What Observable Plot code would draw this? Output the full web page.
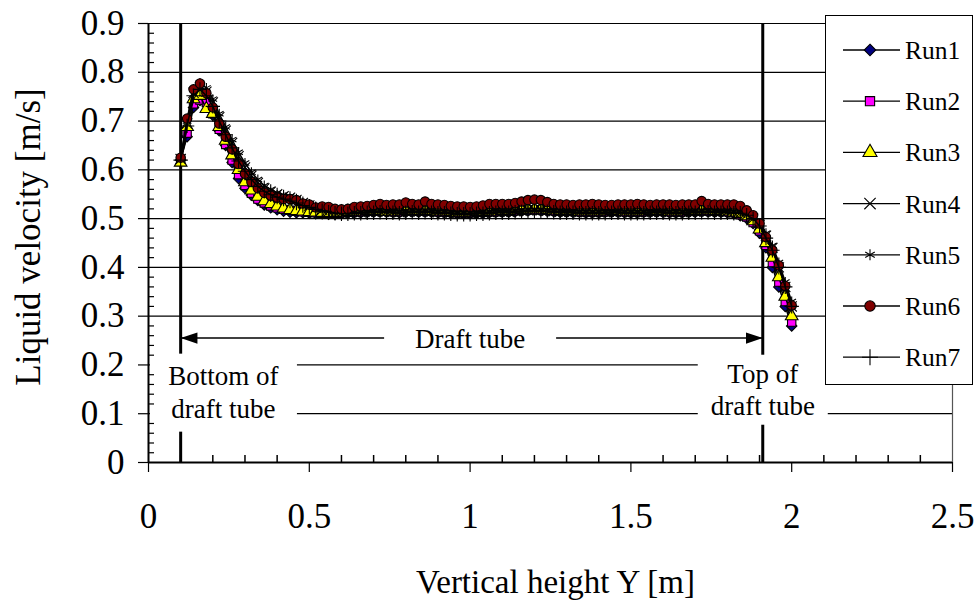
<!DOCTYPE html>
<html><head><meta charset="utf-8">
<script src="https://cdn.jsdelivr.net/npm/d3@7"></script>
<script src="https://cdn.jsdelivr.net/npm/@observablehq/plot@0.6"></script>
<style>
html,body{margin:0;padding:0;background:#fff;}
#wrap{position:relative;width:980px;height:608px;overflow:hidden;}
#wrap svg{position:absolute;left:0;top:0;}
</style></head><body><div id="wrap"></div>
<script>
// ---------- data ----------
const heights = [0.10,0.12,0.14,0.16,0.18,0.20,0.22,0.24,0.26,0.28,0.30,0.32,0.34,0.36,0.38,0.40,0.42,0.44,0.46,0.48,
0.50,0.52,0.54,0.56,0.58,0.60,0.62,0.64,0.66,0.68,0.70,0.72,0.74,0.76,0.78,0.80,0.82,0.84,0.86,0.88,
0.90,0.92,0.94,0.96,0.98,1.00,1.02,1.04,1.06,1.08,1.10,1.12,1.14,1.16,1.18,1.20,1.22,1.24,1.26,1.28,
1.30,1.32,1.34,1.36,1.38,1.40,1.42,1.44,1.46,1.48,1.50,1.52,1.54,1.56,1.58,1.60,1.62,1.64,1.66,1.68,
1.70,1.72,1.74,1.76,1.78,1.80,1.82,1.84,1.86,1.88,1.90,1.92,1.94,1.96,1.98,2.00];

const run1 = [0.620,0.668,0.728,0.742,0.735,0.712,0.680,0.650,0.615,0.582,0.562,0.548,0.537,0.528,0.522,0.518,0.515,0.513,0.512,0.512,
0.511,0.510,0.510,0.509,0.509,0.510,0.511,0.512,0.512,0.513,
0.513,0.514,0.513,0.513,0.512,0.513,0.514,0.513,0.514,0.513,
0.512,0.512,0.511,0.510,0.510,0.510,0.511,0.511,0.512,0.513,
0.513,0.513,0.514,0.515,0.516,0.517,0.516,0.515,0.514,0.513,
0.513,0.513,0.513,0.512,0.512,0.512,0.513,0.513,0.513,0.512,
0.512,0.512,0.513,0.513,0.513,0.513,0.512,0.512,0.512,0.513,
0.513,0.514,0.514,0.513,0.513,0.512,0.510,0.506,
0.500,0.490,0.470,0.440,0.400,0.360,0.320,0.280];

const run2 = [0.618,0.675,0.735,0.743,0.738,0.715,0.683,0.652,0.620,0.590,0.568,0.552,0.540,0.532,0.526,0.522,0.519,0.517,0.515,0.514,
0.513,0.512,0.511,0.511,0.511,0.512,0.513,0.514,0.514,0.515,
0.515,0.515,0.515,0.514,0.514,0.515,0.516,0.515,0.516,0.515,
0.514,0.514,0.513,0.512,0.512,0.512,0.513,0.513,0.514,0.514,
0.515,0.515,0.516,0.517,0.518,0.518,0.518,0.517,0.516,0.515,
0.515,0.515,0.514,0.514,0.514,0.514,0.514,0.515,0.515,0.514,
0.514,0.514,0.514,0.515,0.515,0.515,0.514,0.514,0.514,0.515,
0.515,0.516,0.516,0.515,0.515,0.514,0.512,0.508,
0.503,0.492,0.475,0.445,0.410,0.370,0.330,0.288];

const run3 = [0.615,0.688,0.745,0.752,0.725,0.715,0.688,0.660,0.630,0.600,0.575,0.558,0.545,0.536,0.530,0.525,0.521,0.518,0.516,0.515,
0.514,0.513,0.512,0.512,0.512,0.513,0.514,0.515,0.515,0.516,
0.516,0.516,0.515,0.515,0.515,0.516,0.517,0.516,0.517,0.516,
0.515,0.515,0.514,0.513,0.513,0.513,0.514,0.514,0.515,0.515,
0.516,0.516,0.517,0.518,0.519,0.519,0.519,0.518,0.517,0.516,
0.516,0.516,0.515,0.515,0.515,0.515,0.515,0.516,0.516,0.515,
0.515,0.515,0.515,0.516,0.516,0.516,0.515,0.515,0.515,0.516,
0.516,0.517,0.517,0.516,0.516,0.515,0.513,0.510,
0.505,0.495,0.478,0.450,0.420,0.380,0.340,0.300];

const run4 = [0.622,0.695,0.758,0.770,0.760,0.738,0.708,0.680,0.655,0.628,0.605,0.588,0.573,0.562,0.555,0.550,0.546,0.543,0.538,0.532,
0.527,0.522,0.518,0.515,0.513,0.512,0.512,0.513,0.513,0.514,
0.514,0.515,0.514,0.514,0.513,0.514,0.515,0.514,0.515,0.514,
0.513,0.513,0.512,0.511,0.511,0.511,0.512,0.512,0.513,0.514,
0.514,0.514,0.515,0.516,0.517,0.517,0.517,0.516,0.515,0.514,
0.514,0.514,0.513,0.513,0.513,0.513,0.513,0.514,0.514,0.513,
0.513,0.513,0.513,0.514,0.514,0.514,0.513,0.513,0.513,0.514,
0.514,0.515,0.515,0.514,0.514,0.514,0.513,0.512,
0.508,0.500,0.487,0.465,0.440,0.400,0.360,0.320];

const run5 = [0.625,0.700,0.765,0.778,0.768,0.745,0.715,0.688,0.662,0.636,0.614,0.595,0.580,0.568,0.560,0.553,0.549,0.546,0.541,0.535,
0.530,0.525,0.521,0.518,0.516,0.515,0.515,0.516,0.516,0.517,
0.517,0.518,0.517,0.517,0.516,0.517,0.518,0.517,0.518,0.517,
0.516,0.516,0.515,0.514,0.514,0.514,0.515,0.515,0.516,0.517,
0.517,0.517,0.518,0.519,0.520,0.520,0.520,0.519,0.518,0.517,
0.517,0.517,0.516,0.516,0.516,0.516,0.516,0.517,0.517,0.516,
0.516,0.516,0.516,0.517,0.517,0.517,0.516,0.516,0.516,0.517,
0.517,0.518,0.518,0.517,0.517,0.517,0.516,0.515,
0.512,0.505,0.490,0.470,0.445,0.410,0.370,0.330];

const run6 = [0.625,0.705,0.765,0.777,0.757,0.728,0.695,0.668,0.642,0.612,0.592,0.575,0.562,0.553,0.547,0.543,0.540,0.540,0.538,0.531,
0.529,0.523,0.525,0.524,0.520,0.519,0.520,0.524,0.525,0.526,
0.528,0.530,0.528,0.529,0.529,0.533,0.530,0.529,0.535,0.530,
0.529,0.528,0.526,0.525,0.525,0.524,0.525,0.527,0.530,0.530,
0.530,0.530,0.532,0.535,0.538,0.539,0.538,0.534,0.530,0.529,
0.529,0.528,0.529,0.529,0.530,0.529,0.528,0.528,0.529,0.529,
0.529,0.530,0.529,0.528,0.529,0.529,0.529,0.528,0.529,0.529,
0.529,0.536,0.530,0.529,0.529,0.529,0.529,0.526,
0.517,0.507,0.490,0.462,0.435,0.404,0.362,0.322];

const run7 = [0.620,0.690,0.752,0.765,0.752,0.730,0.700,0.672,0.645,0.618,0.597,0.580,0.566,0.556,0.549,0.544,0.540,0.536,0.532,0.527,
0.523,0.519,0.516,0.513,0.511,0.510,0.510,0.511,0.511,0.512,
0.512,0.513,0.512,0.512,0.511,0.512,0.513,0.512,0.513,0.512,
0.511,0.511,0.510,0.509,0.509,0.509,0.510,0.510,0.511,0.512,
0.512,0.512,0.513,0.514,0.515,0.515,0.515,0.514,0.513,0.512,
0.512,0.512,0.511,0.511,0.511,0.511,0.511,0.512,0.512,0.511,
0.511,0.511,0.511,0.512,0.512,0.512,0.511,0.511,0.511,0.512,
0.512,0.513,0.513,0.512,0.512,0.512,0.511,0.511,
0.507,0.500,0.485,0.460,0.435,0.400,0.360,0.320];

const runNames = ["Run1","Run2","Run3","Run4","Run5","Run6","Run7"];
const runValues = [run1, run2, run3, run4, run5, run6, run7];

const xTicks = [0, 0.5, 1, 1.5, 2, 2.5];
const xMinor = [0.1,0.2,0.3,0.4,0.6,0.7,0.8,0.9,1.1,1.2,1.3,1.4,1.6,1.7,1.8,1.9,2.1,2.2,2.3,2.4];
const yTicks = [0, 0.1, 0.2, 0.3, 0.4, 0.5, 0.6, 0.7, 0.8, 0.9];
const yGrid = [0.1, 0.2, 0.3, 0.4, 0.5, 0.6, 0.7, 0.8, 0.9];
const yMinor = [0.02,0.04,0.06,0.08,0.12,0.14,0.16,0.18,0.22,0.24,0.26,0.28,0.32,0.34,0.36,0.38,
0.42,0.44,0.46,0.48,0.52,0.54,0.56,0.58,0.62,0.64,0.66,0.68,0.72,0.74,0.76,0.78,0.82,0.84,0.86,0.88];

const tubeEnds = [0.1, 1.91];          // bottom and top of draft tube (m)
const arrowLevel = 0.255;              // velocity level of the dimension arrow
const noteTexts = ["Draft tube", "Bottom of\ndraft tube", "Top of\ndraft tube"];
const noteX = [1.0, 0.233, 1.91];
const noteY = [0.257, 0.146, 0.152];
const xTitle = "Vertical height Y [m]";
const yTitle = "Liquid velocity [m/s]";

// ---------- styles ----------
const FONT = "'Liberation Serif','Times New Roman',Tinos,serif";
const runStyles = [
  {symbol: "diamond2", fill: "#000080"},
  {symbol: "square", fill: "#FF00FF"},
  {symbol: "triangle", fill: "#FFFF00"},
  {symbol: "times", fill: "none"},
  {symbol: "asterisk", fill: "none"},
  {symbol: "circle", fill: "#800000"},
  {symbol: "plus", fill: "none"}
];
const noteBox = [[172, 30], [147, 78], [130, 70]]; // box width/height in px

// arrowhead symbol (tip at origin, pointing right)
const arrowHead = {
  draw(ctx, size) {
    const s = Math.sqrt(size);
    ctx.moveTo(0, 0);
    ctx.lineTo(-s * 1.35, -s * 0.45);
    ctx.lineTo(-s * 1.35, s * 0.45);
    ctx.closePath();
  }
};

// ---------- build tables ----------
const seriesRows = runValues.map((vals, k) =>
  vals.map((v, i) => ({run: runNames[k], h: heights[i], v})));
const notes = noteTexts.map((t, i) => ({text: t, x: noteX[i], y: noteY[i]}));
const arrowRow = [{x1: tubeEnds[0], x2: tubeEnds[1], y: arrowLevel}];
const arrowTips = [{x: tubeEnds[0], y: arrowLevel, r: 180}, {x: tubeEnds[1], y: arrowLevel, r: 0}];

const seriesMarks = seriesRows.flatMap((rows, k) => [
  Plot.line(rows, {x: "h", y: "v", stroke: "black", strokeWidth: 1.5}),
  Plot.dot(rows, {x: "h", y: "v", symbol: runStyles[k].symbol, r: 4.7,
    fill: runStyles[k].fill, stroke: "black", strokeWidth: 1.1})
]);

const chart = Plot.plot({
  width: 980, height: 608,
  marginLeft: 148, marginRight: 28, marginTop: 23, marginBottom: 146,
  style: {fontFamily: FONT, fontSize: "26px", background: "white", color: "black"},
  x: {domain: [0, 2.5]},
  y: {domain: [0, 0.9]},
  marks: [
    Plot.ruleY(yGrid, {stroke: "black", strokeWidth: 1.2}),
    Plot.ruleX([2.5], {stroke: "#555", strokeWidth: 1.2}),
    Plot.ruleX(tubeEnds, {stroke: "black", strokeWidth: 3}),
    Plot.ruleY(arrowRow, {y: "y", x1: "x1", x2: "x2", stroke: "black", strokeWidth: 1.5}),
    Plot.dot(arrowTips, {x: "x", y: "y", rotate: "r", symbol: arrowHead, r: 7, fill: "black", stroke: "none"}),
    Plot.text(notes, {x: "x", y: "y", text: "text", fontSize: 27, lineHeight: 1.2, fill: "black"}),
    ...seriesMarks,
    Plot.tickX(xMinor, {x: d => d, insetTop: 432, stroke: "black", strokeWidth: 1.5}),
    Plot.tickY(yMinor, {y: d => d, insetRight: 798, stroke: "black", strokeWidth: 1.2}),
    Plot.ruleY([0], {stroke: "black", strokeWidth: 2}),
    Plot.ruleX([0], {stroke: "black", strokeWidth: 2}),
    Plot.axisX({ticks: xTicks, tickSize: 10, tickPadding: 31, tickFormat: d => String(d),
      fontSize: 35, label: null, strokeWidth: 1.2}),
    Plot.axisY({ticks: yTicks, tickSize: 10, tickPadding: 14, tickFormat: d => String(d),
      fontSize: 35, label: null, strokeWidth: 1.2}),
    Plot.text([xTitle], {text: d => d, frameAnchor: "bottom", lineAnchor: "middle", textAnchor: "middle",
      dy: 120, dx: 5, fontSize: 33}),
    Plot.text([yTitle], {text: d => d, frameAnchor: "left", lineAnchor: "middle", textAnchor: "middle",
      dx: -120, dy: -6, rotate: -90, fontSize: 35})
  ]
});

const wrap = document.getElementById("wrap");
wrap.appendChild(chart);

// white boxes behind the annotation texts
const noteKeys = noteTexts.map(t => t.replace(/\n/g, ""));
d3.select(chart).selectAll("text").each(function() {
  const idx = noteKeys.indexOf(this.textContent);
  if (idx < 0) return;
  const bb = this.getBBox();
  const cx = bb.x + bb.width / 2, cy = bb.y + bb.height / 2;
  const [w, h] = noteBox[idx];
  const rect = document.createElementNS("http://www.w3.org/2000/svg", "rect");
  rect.setAttribute("x", cx - w / 2);
  rect.setAttribute("y", cy - h / 2);
  rect.setAttribute("width", w);
  rect.setAttribute("height", h);
  rect.setAttribute("fill", "white");
  const tf = this.getAttribute("transform");
  if (tf) rect.setAttribute("transform", tf);
  this.parentNode.insertBefore(rect, this);
});

// legend overlay
const leg = d3.select(wrap).append("svg")
  .attr("width", 980).attr("height", 608)
  .style("font-family", FONT);
leg.append("rect").attr("x", 825.5).attr("y", 15.5).attr("width", 147).attr("height", 369)
  .attr("fill", "white").attr("stroke", "black").attr("stroke-width", 1);
const d3sym = {diamond2: d3.symbolDiamond2, square: d3.symbolSquare, triangle: d3.symbolTriangle,
  times: d3.symbolTimes, asterisk: d3.symbolAsterisk, circle: d3.symbolCircle, plus: d3.symbolPlus};
runNames.forEach((name, k) => {
  const y = 50 + k * 51.2;
  const g = leg.append("g").attr("transform", `translate(0,${y})`);
  g.append("line").attr("x1", 843).attr("x2", 900).attr("y1", 0).attr("y2", 0)
    .attr("stroke", "black").attr("stroke-width", 1.3);
  g.append("path").attr("transform", "translate(870,0)")
    .attr("d", d3.symbol(d3sym[runStyles[k].symbol], Math.PI * 5.2 * 5.2)())
    .attr("fill", runStyles[k].fill).attr("stroke", "black").attr("stroke-width", 1.1);
  g.append("text").attr("x", 905).attr("y", 0).attr("dy", "0.35em")
    .attr("font-size", 25.5).attr("fill", "black").text(name);
});
</script></body></html>
